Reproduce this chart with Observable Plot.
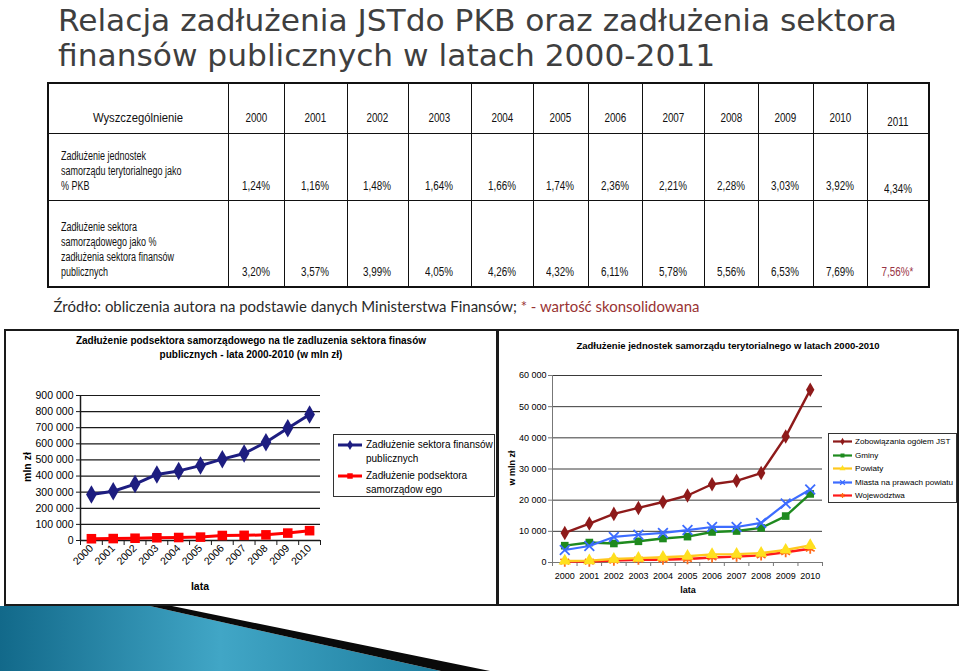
<!DOCTYPE html>
<html lang="pl">
<head>
<meta charset="utf-8">
<script src="https://cdn.jsdelivr.net/npm/d3@7"></script>
<script src="https://cdn.jsdelivr.net/npm/@observablehq/plot@0.6"></script>
<style>
html,body{margin:0;padding:0;background:#fff;}
#slide{position:relative;width:960px;height:671px;overflow:hidden;background:#fff;font-family:"Liberation Sans",Arial,sans-serif;color:#000;}
#deco{position:absolute;left:0;top:0;}
#title{position:absolute;left:58px;top:3px;font-family:"Liberation Sans Narrow","Arial Narrow","DejaVu Sans Condensed",sans-serif;font-size:31px;line-height:35px;color:#3f3f3f;white-space:nowrap;}
#title span{display:inline-block;transform-origin:0 50%;}
#tbl{position:absolute;left:47px;top:82px;border-collapse:collapse;table-layout:fixed;width:881px;border:2px solid #111;font-family:"Liberation Sans",Arial,sans-serif;font-size:12px;color:#111;}
#tbl td{border:1.5px solid #111;vertical-align:bottom;text-align:center;padding:0 0 6px 0;line-height:15px;white-space:nowrap;}
#tbl td span{display:inline-block;transform:scaleX(0.82);transform-origin:50% 100%;}
#tbl td.lab{text-align:left;padding-left:12px;font-size:12.5px;}
#tbl td.lab span{transform:scaleX(0.72);transform-origin:0 100%;}
#tbl td.first span{transform:scaleX(0.94);}
#tbl td.last{padding-bottom:3px;}
#tbl td.hdr{padding-bottom:7px;}
#src{position:absolute;left:0;top:297px;width:754px;text-align:center;font-family:Lato,"Open Sans",sans-serif;font-size:15px;line-height:18px;color:#2a2a2a;white-space:nowrap;}
#src span.in{display:inline-block;transform-origin:50% 50%;}
.box{position:absolute;border:2px solid #1a1a1a;box-sizing:border-box;background:#fff;}
.ctitle{position:absolute;text-align:center;font-weight:bold;color:#000;}
.lbl{position:absolute;font-weight:bold;transform:translate(-50%,-50%);white-space:nowrap;}
.plot{position:absolute;}
.legend{position:absolute;border:1px solid #333;box-sizing:border-box;background:#fff;overflow:hidden;}
.lrow{position:absolute;display:flex;align-items:flex-start;}
.lrow svg{flex:none;}
</style>
</head>
<body>
<div id="slide">
  <svg id="deco" width="960" height="671"></svg>
  <div id="title"><span id="t1">Relacja zadłużenia JSTdo PKB oraz zadłużenia sektora</span><br><span id="t2">finansów publicznych w latach 2000-2011</span></div>
  <table id="tbl"></table>
  <div id="src"><span class="in">Źródło: obliczenia autora na podstawie danych Ministerstwa Finansów; <span style="color:#993333">* - wartość skonsolidowana</span></span></div>

  <div class="box" style="left:4px;top:329px;width:494px;height:277px;"></div>
  <div class="box" style="left:497px;top:329px;width:462px;height:277px;"></div>

  <div class="ctitle" style="left:4px;top:334px;width:494px;font-size:10px;line-height:14px;">Zadłużenie podsektora samorządowego na tle zadluzenia sektora finasów<br>publicznych - lata 2000-2010 (w mln zł)</div>
  <div class="ctitle" style="left:497px;top:339px;width:462px;font-size:9.5px;line-height:13px;">Zadłużenie jednostek samorządu terytorialnego w latach 2000-2010</div>

  <div id="leftPlot" class="plot" style="left:0px;top:380px;"></div>
  <div id="rightPlot" class="plot" style="left:500px;top:360px;"></div>

  <div class="lbl" style="left:27px;top:467px;font-size:10.5px;transform:translate(-50%,-50%) rotate(-90deg);">mln zł</div>
  <div class="lbl" style="left:200px;top:586px;font-size:10.5px;">lata</div>
  <div class="lbl" style="left:512px;top:468px;font-size:9px;transform:translate(-50%,-50%) rotate(-90deg);">w mln zł</div>
  <div class="lbl" style="left:688px;top:590px;font-size:9px;">lata</div>

  <div id="legL" class="legend" style="left:333px;top:434px;width:162px;height:63px;"></div>
  <div id="legR" class="legend" style="left:828px;top:433px;width:129px;height:70px;"></div>
</div>

<script>
// ---------- DATA ----------
const tableYears = ["2000","2001","2002","2003","2004","2005","2006","2007","2008","2009","2010","2011"];
const tableHeader = "Wyszczególnienie";
const rowLabelPKB = ["Zadłużenie jednostek", "samorządu terytorialnego jako", "% PKB"];
const rowLabelSFP = ["Zadłużenie sektora", "samorządowego jako %", "zadłużenia sektora finansów", "publicznych"];
const jstPctPKB = [1.24, 1.16, 1.48, 1.64, 1.66, 1.74, 2.36, 2.21, 2.28, 3.03, 3.92, 4.34];
const jstPctSFP = [3.20, 3.57, 3.99, 4.05, 4.26, 4.32, 6.11, 5.78, 5.56, 6.53, 7.69, 7.56];
const consolidatedIndex = 11; // 2011 value marked with *

const years = [2000, 2001, 2002, 2003, 2004, 2005, 2006, 2007, 2008, 2009, 2010];

// left chart (mln zł)
const sfpDebt    = [285000, 306000, 350000, 410000, 432000, 465000, 505000, 540000, 610000, 697000, 782000];
const jstSubDebt = [11000, 12000, 14000, 17000, 18500, 21000, 31000, 32000, 35000, 46000, 61000];
const leftYTicks = [0, 100000, 200000, 300000, 400000, 500000, 600000, 700000, 800000, 900000];
const leftSeriesNames = ["Zadłużenie sektora finansów publicznych", "Zadłużenie podsektora samorządow ego"];
const leftLegendLines = [["Zadłużenie sektora finansów", "publicznych"], ["Zadłużenie podsektora", "samorządow ego"]];

// right chart (mln zł)
const jstTotal    = [9500, 12500, 15600, 17500, 19400, 21500, 25100, 26200, 28700, 40400, 55400];
const gminy       = [5400, 6400, 6100, 6800, 7700, 8300, 9800, 10100, 11100, 14900, 22000];
const powiaty     = [500, 600, 1100, 1400, 1700, 2000, 2600, 2700, 3000, 4000, 5500];
const miasta      = [4000, 5300, 8200, 8900, 9500, 10400, 11400, 11400, 12700, 18900, 23400];
const wojewodztwa = [300, 300, 600, 900, 900, 1100, 1600, 1900, 2300, 3300, 4400];
const rightYTicks = [0, 10000, 20000, 30000, 40000, 50000, 60000];
const rightSeriesNames = ["Zobowiązania ogółem JST", "Gminy", "Powiaty", "Miasta na prawach powiatu", "Województwa"];

// ---------- DECORATION ----------
(function(){
  const s = d3.select("#deco");
  const g = s.append("defs").append("linearGradient").attr("id","teal").attr("x1","0").attr("x2","1").attr("y1","0").attr("y2","0");
  g.append("stop").attr("offset","0").attr("stop-color","#12698a");
  g.append("stop").attr("offset","0.5").attr("stop-color","#41a6c6");
  g.append("stop").attr("offset","1").attr("stop-color","#1d7d9e");
  s.append("polygon").attr("points","0,606 150,606 441,671 0,671").attr("fill","url(#teal)");
  s.append("polygon").attr("points","150,606 172,606 490,671 441,671").attr("fill","#0a0a0a");
})();

// ---------- TITLE / SOURCE FIT ----------
function fitTitle(){
  const t1 = document.getElementById("t1"), t2 = document.getElementById("t2");
  const w = t1.getBoundingClientRect().width;
  const k = 839 / w;
  t1.style.transform = `scaleX(${k})`;
  t2.style.transform = `scaleX(${k})`;
  const sp = document.querySelector("#src span.in");
  const ws = sp.getBoundingClientRect().width;
  sp.style.transform = `scaleX(${646 / ws})`;
}

// ---------- TABLE ----------
(function(){
  const colW = [180,56,63,61,63,62,55,54,62,54,55,54,62];
  const fmtPct = v => v.toFixed(2).replace(".", ",") + "%";
  const tbl = document.getElementById("tbl");
  const cg = document.createElement("colgroup");
  colW.forEach(w => { const c = document.createElement("col"); c.style.width = w + "px"; cg.appendChild(c); });
  tbl.appendChild(cg);
  const rows = [
    {h: 50, label: [tableHeader], vals: tableYears, hdr: true},
    {h: 67, label: rowLabelPKB, vals: jstPctPKB.map(fmtPct)},
    {h: 87, label: rowLabelSFP, vals: jstPctSFP.map((v,i) => fmtPct(v) + (i === consolidatedIndex ? "*" : ""))}
  ];
  rows.forEach((r, ri) => {
    const tr = document.createElement("tr");
    tr.style.height = r.h + "px";
    const td0 = document.createElement("td");
    const sp0 = document.createElement("span");
    sp0.innerHTML = r.label.join("<br>");
    td0.appendChild(sp0);
    if (r.hdr) { td0.className = "hdr first"; }
    else td0.className = "lab";
    tr.appendChild(td0);
    r.vals.forEach((v, i) => {
      const td = document.createElement("td");
      const sp = document.createElement("span");
      sp.textContent = v;
      td.appendChild(sp);
      if (r.hdr) td.className = "hdr";
      if (i === tableYears.length - 1 && ri < 2) td.className = "last";
      if (ri === 2 && i === consolidatedIndex) td.style.color = "#993344";
      tr.appendChild(td);
    });
    tbl.appendChild(tr);
  });
})();

// ---------- CHARTS ----------
const fmtSp = v => d3.format(",")(v).replace(/,/g, " ");
const xDom = [years[0] - 0.5, years[years.length - 1] + 0.5];
const yearEdges = d3.range(years.length + 1).map(i => xDom[0] + i);
const font = '"Liberation Sans", Arial, sans-serif';

const leftSeries = [
  {name: leftSeriesNames[0], values: sfpDebt, color: "#1d1d80", symbol: "diamond", d3sym: d3.symbolDiamond, r: 5.6, fill: true, sw: 3},
  {name: leftSeriesNames[1], values: jstSubDebt, color: "#ff0000", symbol: "square", d3sym: d3.symbolSquare, r: 5.4, fill: true, sw: 3}
];
const rightSeries = [
  {name: rightSeriesNames[0], values: jstTotal, color: "#8e1a1a", symbol: "diamond", d3sym: d3.symbolDiamond, r: 4.4, fill: true, sw: 2.4},
  {name: rightSeriesNames[1], values: gminy, color: "#1e8a1e", symbol: "square", d3sym: d3.symbolSquare, r: 4.3, fill: true, sw: 2.4},
  {name: rightSeriesNames[3], values: miasta, color: "#3d6cff", symbol: "times", d3sym: d3.symbolTimes, r: 4.5, fill: false, sw: 2.2},
  {name: rightSeriesNames[4], values: wojewodztwa, color: "#ff1a1a", mcolor: "#ff6a1a", symbol: "asterisk", d3sym: d3.symbolAsterisk, r: 4.8, fill: false, sw: 2.4},
  {name: rightSeriesNames[2], values: powiaty, color: "#ffc81e", mcolor: "#ffe01e", symbol: "triangle", d3sym: d3.symbolTriangle, r: 4.6, fill: true, sw: 2.4}
];

function seriesMarks(series){
  const marks = [];
  series.forEach(s => {
    const data = years.map((y, i) => ({year: y, value: s.values[i]}));
    marks.push(Plot.line(data, {x: "year", y: "value", stroke: s.color, strokeWidth: s.sw}));
    const mc = s.mcolor || s.color;
    marks.push(Plot.dot(data, s.fill
      ? {x: "year", y: "value", symbol: () => s.symbol, fill: mc, stroke: "none", r: s.r}
      : {x: "year", y: "value", symbol: () => s.symbol, stroke: mc, strokeWidth: 1.8, fill: "none", r: s.r}));
  });
  return marks;
}

const leftPlot = Plot.plot({
  width: 330, height: 226,
  marginLeft: 80, marginRight: 10, marginTop: 15, marginBottom: 66,
  style: {fontFamily: font, fontSize: "10.5px", color: "#000", background: "transparent", overflow: "visible"},
  x: {type: "linear", domain: xDom},
  y: {domain: [0, 900000]},
  symbol: {type: "identity"},
  marks: [
    Plot.gridY(leftYTicks, {stroke: "#1a1a1a", strokeOpacity: 1, strokeWidth: 1.2}),
    Plot.axisY(leftYTicks, {tickSize: 4, tickPadding: 3, tickFormat: fmtSp, label: null, stroke: "#1a1a1a"}),
    Plot.axisX(yearEdges, {tickSize: 5, tickFormat: () => "", label: null, stroke: "#1a1a1a"}),
    Plot.axisX(years, {tickSize: 0, tickPadding: 6, tickRotate: -45, tickFormat: d => String(d), label: null}),
    Plot.ruleY([0], {stroke: "#1a1a1a", strokeWidth: 1.5}),
    Plot.ruleX([xDom[0]], {stroke: "#1a1a1a", strokeWidth: 1.5}),
    ...seriesMarks(leftSeries)
  ]
});
document.getElementById("leftPlot").appendChild(leftPlot);

const rightPlot = Plot.plot({
  width: 330, height: 245,
  marginLeft: 52, marginRight: 8, marginTop: 15, marginBottom: 43,
  style: {fontFamily: font, fontSize: "9px", color: "#000", background: "transparent", overflow: "visible"},
  x: {type: "linear", domain: xDom},
  y: {domain: [0, 60000]},
  symbol: {type: "identity"},
  marks: [
    Plot.gridY(rightYTicks.slice(1), {stroke: "#3a3a3a", strokeOpacity: 1, strokeWidth: 1}),
    Plot.axisY(rightYTicks, {tickSize: 4, tickPadding: 2, tickFormat: fmtSp, label: null, stroke: "#777"}),
    Plot.axisX(yearEdges, {tickSize: 4, tickFormat: () => "", label: null, stroke: "#777"}),
    Plot.axisX(years, {tickSize: 0, tickPadding: 10, tickFormat: d => String(d), label: null}),
    Plot.ruleY([0], {stroke: "#777"}),
    Plot.ruleX([xDom[0]], {stroke: "#777"}),
    ...seriesMarks(rightSeries)
  ]
});
document.getElementById("rightPlot").appendChild(rightPlot);

// ---------- LEGENDS ----------
function swatch(s, w, h, sw, size){
  const svg = d3.create("svg").attr("width", w).attr("height", h);
  svg.append("line").attr("x1", 0).attr("x2", w).attr("y1", h/2).attr("y2", h/2).attr("stroke", s.color).attr("stroke-width", sw);
  const mc = s.mcolor || s.color;
  const p = svg.append("path").attr("transform", `translate(${w/2},${h/2})`).attr("d", d3.symbol(s.d3sym, size)());
  if (s.fill) p.attr("fill", mc); else p.attr("fill", "none").attr("stroke", mc).attr("stroke-width", 1.3);
  return svg.node();
}
function buildLegend(id, order, opt){
  const leg = document.getElementById(id);
  order.forEach((s, i) => {
    const row = document.createElement("div");
    row.className = "lrow";
    row.style.left = opt.left + "px";
    row.style.top = (opt.top + i * opt.step) + "px";
    row.style.fontSize = opt.fs + "px";
    row.style.lineHeight = opt.lh + "px";
    const sv = swatch(s, opt.sw, opt.lh, opt.stroke, opt.size);
    sv.style.marginRight = opt.gap + "px";
    row.appendChild(sv);
    const t = document.createElement("div");
    t.innerHTML = opt.lines ? opt.lines[i].join("<br>") : s.name;
    t.style.whiteSpace = "nowrap";
    row.appendChild(t);
    leg.appendChild(row);
  });
}
buildLegend("legL", leftSeries, {left: 4, top: 3, step: 31, fs: 10, lh: 14, sw: 24, gap: 4, stroke: 3, size: 30, lines: leftLegendLines});
const rOrder = [rightSeries[0], rightSeries[1], rightSeries[4], rightSeries[2], rightSeries[3]];
buildLegend("legR", rOrder, {left: 4, top: 1, step: 13.6, fs: 8.1, lh: 13, sw: 19, gap: 3, stroke: 2.2, size: 16});

fitTitle();
</script>
</body>
</html>
